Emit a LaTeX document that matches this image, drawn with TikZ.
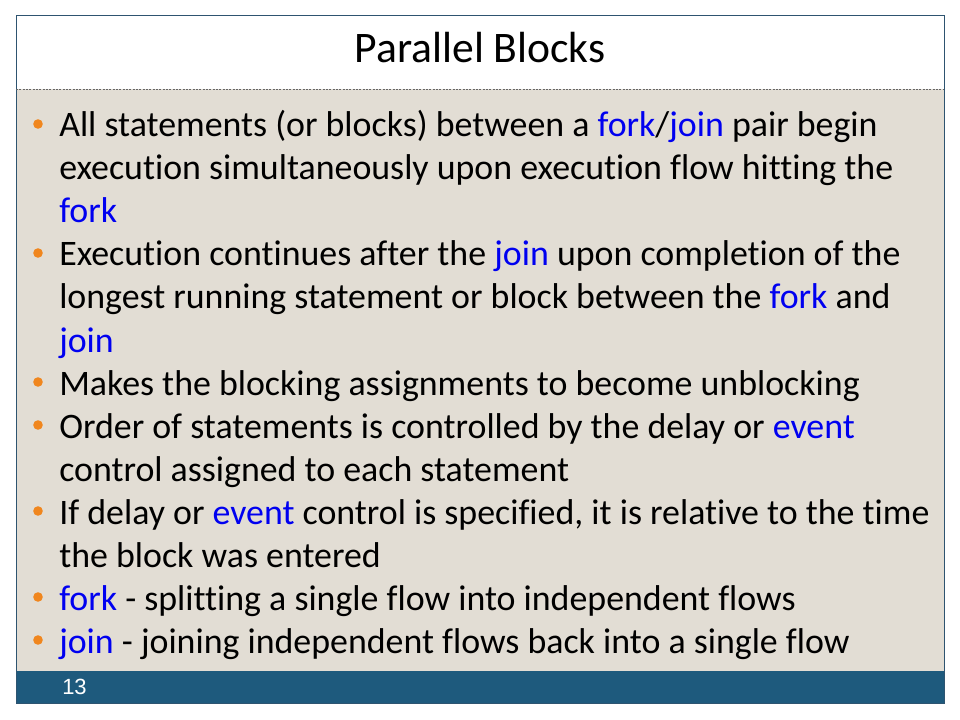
\documentclass[tikz,border=0pt]{standalone}
\usepackage{fontspec}
\setmainfont[Ligatures={NoCommon}]{Carlito}
\newfontfamily\numfont{Liberation Sans}
\definecolor{bodybg}{HTML}{E2DDD4}
\definecolor{barblue}{HTML}{1E5A7D}
\definecolor{framec}{HTML}{2E5470}
\definecolor{kwblue}{HTML}{0000F0}
\definecolor{bulletc}{HTML}{F0861E}
\newcommand\kw[1]{\textcolor{kwblue}{#1}}
\tikzset{
  txt/.style={anchor=base west, inner sep=0pt, font=\fontsize{26.9}{32}\selectfont},
  bul/.style={circle, fill=bulletc, inner sep=0pt, minimum size=7.2pt},
}
\begin{document}
\begin{tikzpicture}[x=0.75pt,y=-0.75pt]
\useasboundingbox (0,0) rectangle (960,720);
\fill[white] (0,0) rectangle (960,720);
\fill[bodybg] (16,89) rectangle (944,671);
\fill[barblue] (16,671) rectangle (944,703);
\draw[framec, line width=0.75pt] (16,16) rectangle (944,703);
\draw[gray!80!black, dash pattern=on 1.5pt off 1pt, line width=0.5pt] (16,89) -- (944,89);
\node[anchor=base, inner sep=0pt, font=\fontsize{32.7}{38}\selectfont] (title) at (480,63) {Parallel Blocks};
% lines
\node[txt] (l0) at (59,137) {All statements (or blocks) between a \kw{fork}/\kw{join} pair begin};
\node[txt] (l1) at (59,180) {execution simultaneously upon execution flow hitting the};
\node[txt] (l2) at (59,223) {\kw{fork}};
\node[txt] (l3) at (59,266) {Execution continues after the \kw{join} upon completion of the};
\node[txt] (l4) at (59,309) {longest running statement or block between the \kw{fork} and};
\node[txt] (l5) at (59,352) {\kw{join}};
\node[txt] (l6) at (59,395) {Makes the blocking assignments to become unblocking};
\node[txt] (l7) at (59,438) {Order of statements is controlled by the delay or \kw{event}};
\node[txt] (l8) at (59,481) {control assigned to each statement};
\node[txt] (l9) at (59,524) {If delay or \kw{event} control is specified, it is relative to the time};
\node[txt] (l10) at (59,567) {the block was entered};
\node[txt] (l11) at (59,610) {\kw{fork} - splitting a single flow into independent flows};
\node[txt] (l12) at (59,653) {\kw{join} - joining independent flows back into a single flow};
% bullets
\node[bul] (b0) at (38,124) {};
\node[bul] (b1) at (38,253) {};
\node[bul] (b2) at (38,382) {};
\node[bul] (b3) at (38,425) {};
\node[bul] (b4) at (38,511) {};
\node[bul] (b5) at (38,597) {};
\node[bul] (b6) at (38,640) {};
\node[anchor=base west, inner sep=0pt, text=white, font=\numfont\fontsize{16.5}{20}\selectfont] (pg) at (62,694) {13};
\end{tikzpicture}
\end{document}
